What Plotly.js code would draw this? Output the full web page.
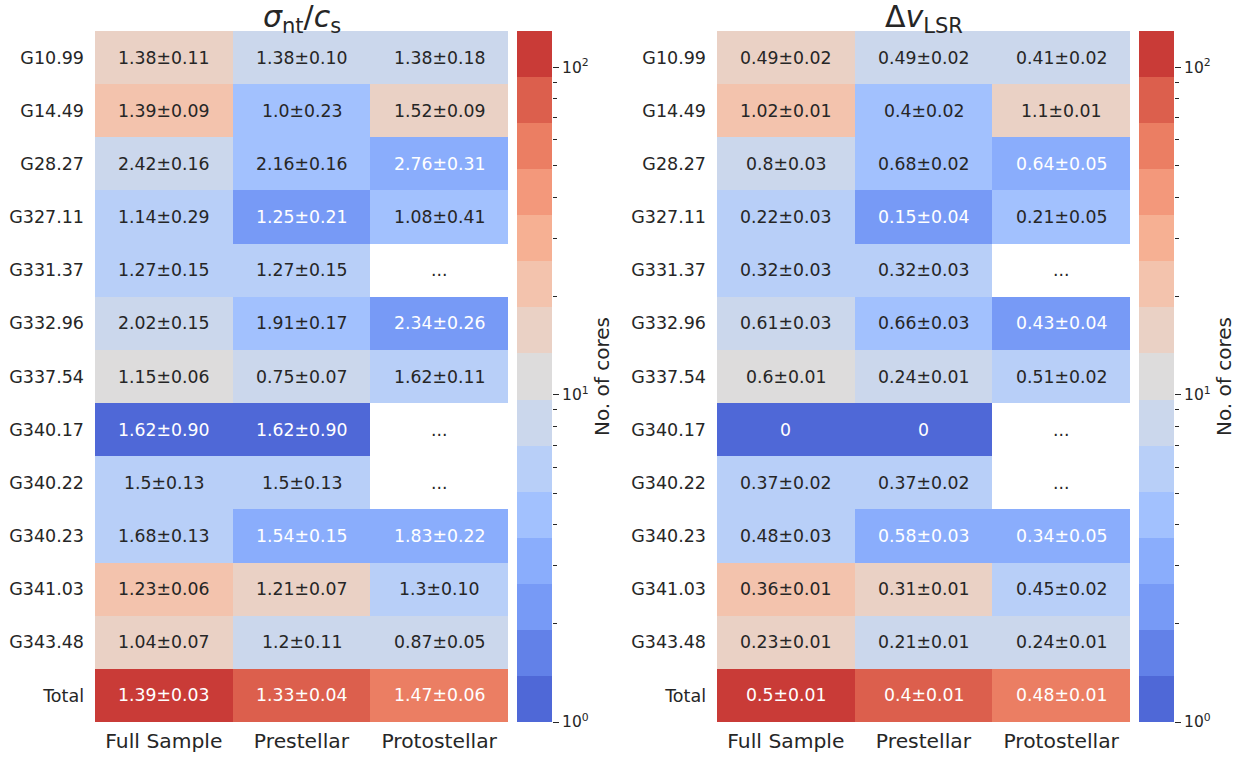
<!DOCTYPE html>
<html><head><meta charset="utf-8">
<script src="https://cdn.plot.ly/plotly-3.0.1.min.js"></script>
<style>html,body{margin:0;padding:0;background:#fff}</style>
</head><body><div id="chart" style="width:1245px;height:758px"></div>
<script>
// ---------------- data ----------------
const regions = ['G10.99','G14.49','G28.27','G327.11','G331.37','G332.96','G337.54','G340.17','G340.22','G340.23','G341.03','G343.48','Total'];
const samples = ['Full Sample','Prestellar','Protostellar'];

// number of cores per cell (null = no cores)
const coresFull  = [17, 21, 8, 6, 6, 7, 13, 1, 6, 6, 21, 17, 129];
const coresPre   = [8, 5, 5, 2, 6, 5, 7, 1, 6, 3, 15, 9, 72];
const coresProto = [9, 16, 3, 4, null, 2, 6, null, null, 3, 6, 8, 57];

// sigma_nt / c_s labels
const sigmaFull  = ['1.38±0.11','1.39±0.09','2.42±0.16','1.14±0.29','1.27±0.15','2.02±0.15','1.15±0.06','1.62±0.90','1.5±0.13','1.68±0.13','1.23±0.06','1.04±0.07','1.39±0.03'];
const sigmaPre   = ['1.38±0.10','1.0±0.23','2.16±0.16','1.25±0.21','1.27±0.15','1.91±0.17','0.75±0.07','1.62±0.90','1.5±0.13','1.54±0.15','1.21±0.07','1.2±0.11','1.33±0.04'];
const sigmaProto = ['1.38±0.18','1.52±0.09','2.76±0.31','1.08±0.41','...','2.34±0.26','1.62±0.11','...','...','1.83±0.22','1.3±0.10','0.87±0.05','1.47±0.06'];

// delta v_LSR labels
const dvFull  = ['0.49±0.02','1.02±0.01','0.8±0.03','0.22±0.03','0.32±0.03','0.61±0.03','0.6±0.01','0','0.37±0.02','0.48±0.03','0.36±0.01','0.23±0.01','0.5±0.01'];
const dvPre   = ['0.49±0.02','0.4±0.02','0.68±0.02','0.15±0.04','0.32±0.03','0.66±0.03','0.24±0.01','0','0.37±0.02','0.58±0.03','0.31±0.01','0.21±0.01','0.4±0.01'];
const dvProto = ['0.41±0.02','1.1±0.01','0.64±0.05','0.21±0.05','...','0.43±0.04','0.51±0.02','...','...','0.34±0.05','0.45±0.02','0.24±0.01','0.48±0.01'];

const cbMajor = [1, 10, 100];
const cbMajorText = ['10<sup>0</sup>','10<sup>1</sup>','10<sup>2</sup>'];
const cbMinor = [2,3,4,5,6,7,8,9,20,30,40,50,60,70,80,90];

// ---------------- style ----------------
const palette = ['#4f68d7','#6281e8','#779af6','#8aadfc','#a2c1fe','#b8cff8','#cbd7ec','#dddcdc','#ead1c5','#f3c3ad','#f6b093','#f3987b','#eb7e63','#dc5f4d','#c93b37'];
const W = 1245, H = 758;
const FONT = 'DejaVu Sans';
const TXT = '#262626';
const fx = p => p / W;
const fy = p => 1 - p / H;

const nb = palette.length;
const colorscale = [];
palette.forEach((c, i) => { colorscale.push([i / nb, c]); colorscale.push([(i + 1) / nb, c]); });

const cols = [coresFull, coresPre, coresProto];
const z = regions.map((r, i) => cols.map(c => c[i] ? Math.log10(c[i]) : null));
const zmax = Math.log10(Math.max(...coresFull, ...coresPre, ...coresProto.filter(v => v)));

const panels = [
  {x0: 95, x1: 508, cb0: 517, cb1: 552, texts: [sigmaFull, sigmaPre, sigmaProto],
   title: '<i>σ</i><sub>nt</sub>/<i>c</i><sub>s</sub>'},
  {x0: 717, x1: 1130, cb0: 1139, cb1: 1174, texts: [dvFull, dvPre, dvProto],
   title: 'Δ<i>v</i><sub>LSR</sub>'}
];
const yTop = 31, yBot = 722;

const data = [];
const layout = {
  width: W, height: H, margin: {l: 0, r: 0, t: 0, b: 0},
  paper_bgcolor: '#fff', plot_bgcolor: '#fff', showlegend: false,
  font: {family: FONT, color: TXT},
  annotations: []
};

panels.forEach((p, k) => {
  const n = k * 2 + 1;           // heatmap axes index
  const m = k * 2 + 2;           // colorbar overlay axes index
  const xa = n === 1 ? 'x' : 'x' + n, ya = n === 1 ? 'y' : 'y' + n;
  const xl = n === 1 ? 'xaxis' : 'xaxis' + n, yl = n === 1 ? 'yaxis' : 'yaxis' + n;
  data.push({
    type: 'heatmap', x: samples, y: regions, z: z, xaxis: xa, yaxis: ya,
    colorscale: colorscale, zmin: 0, zmax: zmax, hoverinfo: 'skip',
    colorbar: {x: fx(p.cb0), xanchor: 'left', xref: 'paper', thickness: p.cb1 - p.cb0, thicknessmode: 'pixels',
      len: (yBot - yTop) / H, lenmode: 'fraction', y: fy(yBot), yanchor: 'bottom', yref: 'paper',
      xpad: 0, ypad: 0, outlinewidth: 0, showticklabels: false, ticks: ''}
  });
  layout[xl] = {domain: [fx(p.x0), fx(p.x1)], anchor: ya, type: 'category', range: [-0.5, 2.5],
    showgrid: false, zeroline: false, showline: false, ticks: '', fixedrange: true,
    tickfont: {size: 20.3, family: FONT, color: TXT}, ticklabelstandoff: 5};
  layout[yl] = {domain: [fy(yBot), fy(yTop)], anchor: xa, type: 'category', range: [12.5, -0.5],
    showgrid: false, zeroline: false, showline: false, ticks: '', fixedrange: true,
    tickfont: {size: 17.5, family: FONT, color: TXT}, ticklabelstandoff: 10};

  // colorbar tick axis overlay
  data.push({type: 'scatter', x: [0], y: [-10], mode: 'markers', marker: {opacity: 0},
    xaxis: 'x' + m, yaxis: 'y' + m, hoverinfo: 'skip', showlegend: false});
  layout['xaxis' + m] = {domain: [fx(p.cb0), fx(p.cb1)], anchor: 'y' + m, range: [0, 1], visible: false, fixedrange: true};
  layout['yaxis' + m] = {domain: [fy(yBot), fy(yTop)], anchor: 'x' + m, side: 'right', range: [0, zmax],
    showgrid: false, zeroline: false, showline: false, fixedrange: true,
    ticks: 'outside', ticklen: 6, tickwidth: 1, tickcolor: TXT,
    tickvals: cbMajor.map(Math.log10), ticktext: cbMajorText,
    tickfont: {size: 15.5, family: FONT, color: TXT},
    minor: {tickvals: cbMinor.map(Math.log10), ticks: 'outside', ticklen: 3.5, tickwidth: 1, tickcolor: TXT, showgrid: false},
    title: {text: 'No. of cores', font: {size: 20, family: FONT, color: TXT}, standoff: 7}};

  // title
  layout.annotations.push({xref: 'paper', yref: 'paper', x: fx((p.x0 + p.x1) / 2), y: fy(18),
    xanchor: 'center', yanchor: 'middle', showarrow: false, text: p.title,
    font: {size: 30, family: FONT, color: TXT}});

  // cell labels
  regions.forEach((r, i) => {
    samples.forEach((s, j) => {
      const v = z[i][j];
      let color = TXT;
      if (v !== null) {
        const b = Math.min(nb - 1, Math.floor(v / zmax * nb));
        if (b <= 3 || b >= 12) color = '#ffffff';
      }
      layout.annotations.push({xref: xa, yref: ya, x: j, y: i, text: p.texts[j][i], showarrow: false,
        font: {size: 17.3, family: FONT, color: color}});
    });
  });
});

Plotly.newPlot('chart', data, layout, {staticPlot: true, displayModeBar: false});
</script></body></html>
